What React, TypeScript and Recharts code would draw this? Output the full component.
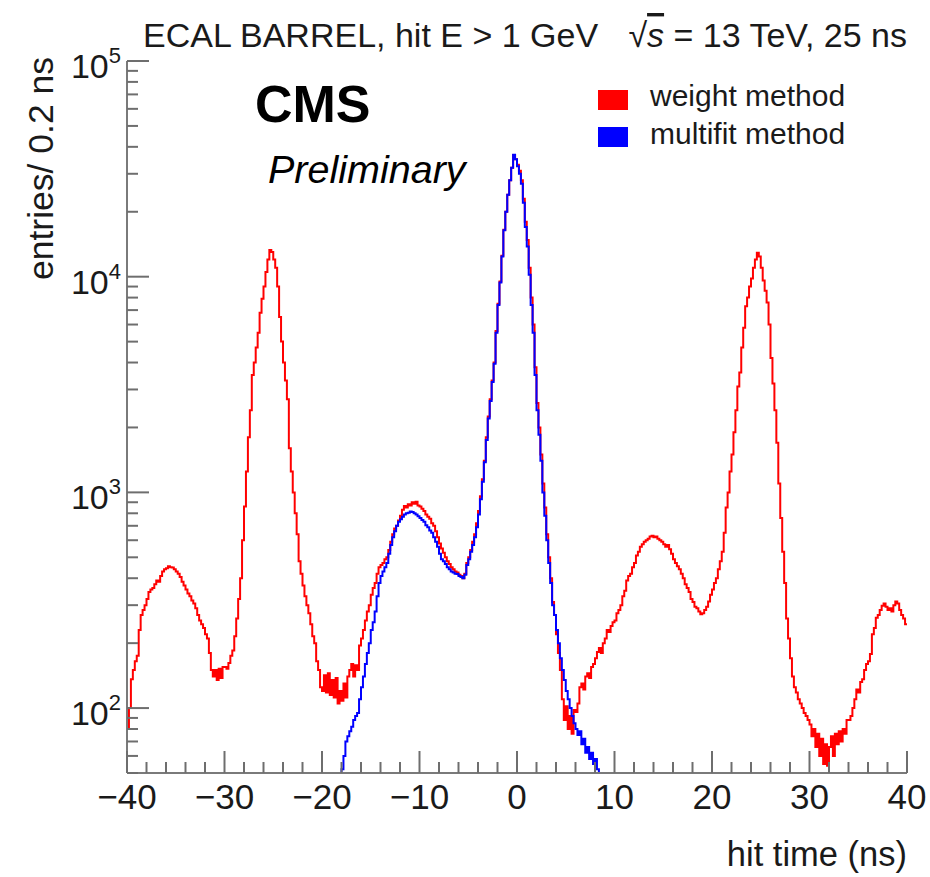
import React from "react";
import { LineChart, Line, XAxis, YAxis } from "recharts";

const FONT = "'Liberation Sans', Arial, Helvetica, sans-serif";

// histogram binning (ns)
const BIN_START = -40;
const BIN_WIDTH = 0.2;
const Y_MIN = 50;
const Y_MAX = 100000;

// entries / 0.2 ns, weight method (red); one row = 2 ns, first row starts at -40
const weightCounts = [
  80, 100, 136, 150, 165, 175, 230, 270, 285, 300,
  320, 345, 355, 360, 375, 390, 385, 410, 430, 440,
  445, 455, 450, 448, 440, 430, 420, 405, 385, 370,
  355, 340, 330, 315, 305, 290, 270, 255, 245, 235,
  220, 210, 180, 150, 140, 150, 135, 152, 138, 155,
  155, 152, 162, 175, 185, 215, 260, 320, 400, 600,
  860, 1250, 1800, 2400, 3500, 4000, 4700, 5500, 6800, 7900,
  9000, 10500, 12000, 13300, 13000, 12000, 11000, 9000, 6500, 5000,
  4000, 3300, 2700, 1600, 1250, 1000, 800, 640, 480, 420,
  370, 330, 300, 275, 245, 215, 200, 165, 150, 125,
  120, 142, 118, 145, 115, 135, 112, 138, 105, 120,
  108, 130, 112, 140, 150, 160, 140, 158, 150, 195,
  210, 230, 255, 280, 300, 335, 360, 380, 420, 450,
  460, 470, 490, 500, 540, 590, 640, 680, 700, 740,
  780, 830, 865, 850, 880, 870, 900, 885, 905, 870,
  860, 840, 820, 790, 770, 755, 720, 700, 660, 620,
  580, 550, 525, 500, 480, 465, 450, 440, 430, 425,
  415, 410, 400, 420, 470, 500, 540, 590, 640, 720,
  820, 960, 1150, 1400, 1800, 2250, 2700, 3300, 4000, 5600,
  7500, 9500, 12500, 16500, 20000, 24000, 28000, 32000, 36700, 35000,
  33000, 31000, 28000, 23000, 18000, 14800, 11000, 8000, 6000, 3800,
  2600, 2000, 1500, 1100, 850, 640, 500, 400, 310, 270,
  220, 180, 150, 110, 88, 102, 80, 92, 76, 98,
  96, 105, 125, 130, 122, 140, 145, 138, 155, 160,
  170, 182, 190, 180, 200, 210, 230, 225, 240, 250,
  255, 275, 285, 300, 330, 350, 390, 410, 420, 450,
  470, 510, 530, 560, 575, 590, 600, 610, 625, 630,
  620, 625, 610, 600, 590, 575, 560, 570, 545, 520,
  490, 470, 455, 440, 420, 400, 375, 360, 345, 320,
  310, 295, 290, 280, 272, 275, 285, 295, 312, 335,
  355, 380, 400, 440, 480, 530, 650, 850, 1000, 1250,
  1500, 1900, 2400, 3100, 3600, 4700, 5800, 7300, 8000, 9000,
  9800, 11000, 12000, 12900, 12400, 11000, 9600, 8600, 7600, 6000,
  4200, 3200, 2400, 1700, 1100, 760, 530, 380, 260, 210,
  170, 140, 125, 118, 110, 105, 100, 95, 92, 88,
  84, 74, 80, 66, 76, 60, 72, 55, 68, 54,
  66, 74, 60, 76, 68, 78, 70, 80, 76, 88,
  88, 92, 100, 110, 122, 118, 132, 136, 150, 160,
  165, 178, 220, 235, 262, 270, 285, 298, 305, 295,
  285, 290, 280, 300, 312, 305, 285, 270, 260, 245,
];

// entries / 0.2 ns, multifit method (blue); same binning
const multifitCounts = [
  0, 0, 0, 0, 0, 0, 0, 0, 0, 0,
  0, 0, 0, 0, 0, 0, 0, 0, 0, 0,
  0, 0, 0, 0, 0, 0, 0, 0, 0, 0,
  0, 0, 0, 0, 0, 0, 0, 0, 0, 0,
  0, 0, 0, 0, 0, 0, 0, 0, 0, 0,
  0, 0, 0, 0, 0, 0, 0, 0, 0, 0,
  0, 0, 0, 0, 0, 0, 0, 0, 0, 0,
  0, 0, 0, 0, 0, 0, 0, 0, 0, 0,
  0, 0, 0, 0, 0, 0, 0, 0, 0, 0,
  0, 0, 0, 0, 0, 0, 0, 0, 0, 0,
  0, 0, 0, 0, 0, 0, 0, 0, 0, 0,
  52, 60, 70, 74, 78, 82, 88, 92, 95, 110,
  125, 140, 160, 180, 200, 230, 250, 280, 330, 380,
  410, 430, 450, 470, 520, 570, 620, 660, 700, 730,
  750, 770, 790, 800, 805, 815, 810, 800, 790, 775,
  760, 745, 730, 705, 690, 665, 650, 620, 590, 560,
  520, 490, 480, 465, 450, 440, 430, 425, 420, 418,
  410, 405, 400, 415, 460, 490, 530, 570, 620, 690,
  790, 930, 1120, 1380, 1750, 2200, 2650, 3250, 3950, 5500,
  7400, 9400, 12400, 16400, 20000, 24000, 28000, 32000, 36800, 35000,
  32500, 30000, 27000, 22000, 17000, 13800, 10200, 7400, 5500, 3500,
  2400, 1850, 1400, 1000, 780, 600, 470, 380, 300, 270,
  230, 200, 170, 150, 135, 120, 110, 100, 92, 85,
  80, 75, 78, 68, 72, 62, 66, 58, 62, 55,
  58, 52, 0, 0, 0, 0, 0, 0, 0, 0,
  0, 0, 0, 0, 0, 0, 0, 0, 0, 0,
  0, 0, 0, 0, 0, 0, 0, 0, 0, 0,
  0, 0, 0, 0, 0, 0, 0, 0, 0, 0,
  0, 0, 0, 0, 0, 0, 0, 0, 0, 0,
  0, 0, 0, 0, 0, 0, 0, 0, 0, 0,
  0, 0, 0, 0, 0, 0, 0, 0, 0, 0,
  0, 0, 0, 0, 0, 0, 0, 0, 0, 0,
  0, 0, 0, 0, 0, 0, 0, 0, 0, 0,
  0, 0, 0, 0, 0, 0, 0, 0, 0, 0,
  0, 0, 0, 0, 0, 0, 0, 0, 0, 0,
  0, 0, 0, 0, 0, 0, 0, 0, 0, 0,
  0, 0, 0, 0, 0, 0, 0, 0, 0, 0,
  0, 0, 0, 0, 0, 0, 0, 0, 0, 0,
  0, 0, 0, 0, 0, 0, 0, 0, 0, 0,
  0, 0, 0, 0, 0, 0, 0, 0, 0, 0,
];

const xTicks = [
  -40, -38, -36, -34, -32, -30, -28, -26, -24, -22,
  -20, -18, -16, -14, -12, -10, -8, -6, -4, -2,
  0, 2, 4, 6, 8, 10, 12, 14, 16, 18,
  20, 22, 24, 26, 28, 30, 32, 34, 36, 38, 40,
];

const yTicks = [
  50, 60, 70, 80, 90, 100,
  200, 300, 400, 500, 600, 700, 800, 900, 1000,
  2000, 3000, 4000, 5000, 6000, 7000, 8000, 9000, 10000,
  20000, 30000, 40000, 50000, 60000, 70000, 80000, 90000, 100000,
];

const legendItems = [
  { label: "weight method", color: "#ff0000" },
  { label: "multifit method", color: "#0000ff" },
];

// one extra point at the last edge so the last bin gets its full width
const chartData = Array.from({ length: weightCounts.length + 1 }, (_, i) => {
  const k = Math.min(i, weightCounts.length - 1);
  return {
    t: Math.round((BIN_START + i * BIN_WIDTH) * 10) / 10,
    weight: Math.max(weightCounts[k], Y_MIN),
    multifit: Math.max(multifitCounts[k], Y_MIN),
  };
});

const AXIS_GREY = "#6e6e6e";

function XTick({ x, y, payload }: any) {
  const v = payload.value as number;
  const major = v % 10 === 0;
  const px = Number(x);
  const py = Number(y);
  return (
    <g>
      <path d={`M${px},${py}V${py - (major ? 22 : 11)}`} stroke={AXIS_GREY} strokeWidth={2} fill="none" />
      {major && (
        <text x={px} y={py + 36} textAnchor="middle" fontSize={35} fontFamily={FONT} fill="#1a1a1a">
          {v < 0 ? `\u2212${-v}` : v}
        </text>
      )}
    </g>
  );
}

function YTick({ x, y, payload }: any) {
  const v = payload.value as number;
  const exp = Math.log10(v);
  const major = Math.abs(exp - Math.round(exp)) < 1e-6;
  const px = Number(x);
  const py = Number(y);
  return (
    <g>
      <path d={`M${px},${py}H${px + (major ? 22 : 11)}`} stroke={AXIS_GREY} strokeWidth={2} fill="none" />
      {major && (
        <text x={px - 6} y={py + 17} textAnchor="end" fontSize={34} fontFamily={FONT} fill="#1a1a1a">
          10
          <tspan dy={-15} fontSize={22}>{Math.round(exp)}</tspan>
        </text>
      )}
    </g>
  );
}

const frameLine = { stroke: "#7a7a7a", strokeWidth: 2 };

export default function App() {
  return (
    <div style={{ position: "absolute", left: 0, top: 0, width: 930, height: 877, background: "#fff" }}>
      <LineChart
        width={930}
        height={877}
        data={chartData}
        margin={{ top: 61, right: 23, bottom: 44, left: 27 }}
      >
        <XAxis
          dataKey="t"
          type="number"
          domain={[-40, 40]}
          ticks={xTicks}
          interval={0}
          allowDataOverflow
          axisLine={frameLine}
          tickLine={false}
          tickSize={0}
          tickMargin={0}
          height={60}
          tick={<XTick />}
        />
        <XAxis
          xAxisId="top"
          orientation="top"
          dataKey="t"
          type="number"
          domain={[-40, 40]}
          allowDataOverflow
          axisLine={frameLine}
          tick={false}
          tickLine={false}
          height={0}
        />
        <YAxis
          type="number"
          scale="log"
          domain={[Y_MIN, Y_MAX]}
          ticks={yTicks}
          interval={0}
          allowDataOverflow
          axisLine={frameLine}
          tickLine={false}
          tickSize={0}
          tickMargin={0}
          width={100}
          tick={<YTick />}
        />
        <YAxis
          yAxisId="right"
          orientation="right"
          type="number"
          scale="log"
          domain={[Y_MIN, Y_MAX]}
          allowDataOverflow
          axisLine={frameLine}
          tick={false}
          tickLine={false}
          width={0}
        />
        <Line
          dataKey="weight"
          type="stepAfter"
          stroke="#ff0000"
          strokeWidth={2}
          dot={false}
          isAnimationActive={false}
        />
        <Line
          dataKey="multifit"
          type="stepAfter"
          stroke="#0000ff"
          strokeWidth={2}
          dot={false}
          isAnimationActive={false}
        />
      </LineChart>

      <svg
        width={930}
        height={877}
        style={{ position: "absolute", left: 0, top: 0, pointerEvents: "none" }}
        fontFamily={FONT}
      >
        <text x={143} y={47} fontSize={34} fill="#1a1a1a">
          ECAL BARREL, hit E &gt; 1 GeV
        </text>
        <text x={907} y={47} textAnchor="end" fontSize={34} fill="#1a1a1a">
          {"\u221a"}
          <tspan fontStyle="italic" style={{ textDecoration: "overline" }}>s</tspan>
          <tspan> = 13 TeV, 25 ns</tspan>
        </text>

        <text transform="translate(53,57) rotate(-90)" textAnchor="end" fontSize={35.5} fill="#1a1a1a">
          entries/ 0.2 ns
        </text>
        <text x={907} y={866} textAnchor="end" fontSize={34.5} fill="#1a1a1a">
          hit time (ns)
        </text>

        <text x={255} y={122} fontSize={52} fontWeight="bold" fill="#000">
          CMS
        </text>
        <text x={268} y={183} fontSize={39.5} fontStyle="italic" fill="#000">
          Preliminary
        </text>

        {legendItems.map((item, i) => (
          <g key={item.label}>
            <rect x={598} y={90 + i * 37} width={30} height={20} fill={item.color} />
            <text x={650} y={106 + i * 38} fontSize={30} fill="#1a1a1a">
              {item.label}
            </text>
          </g>
        ))}
      </svg>
    </div>
  );
}
